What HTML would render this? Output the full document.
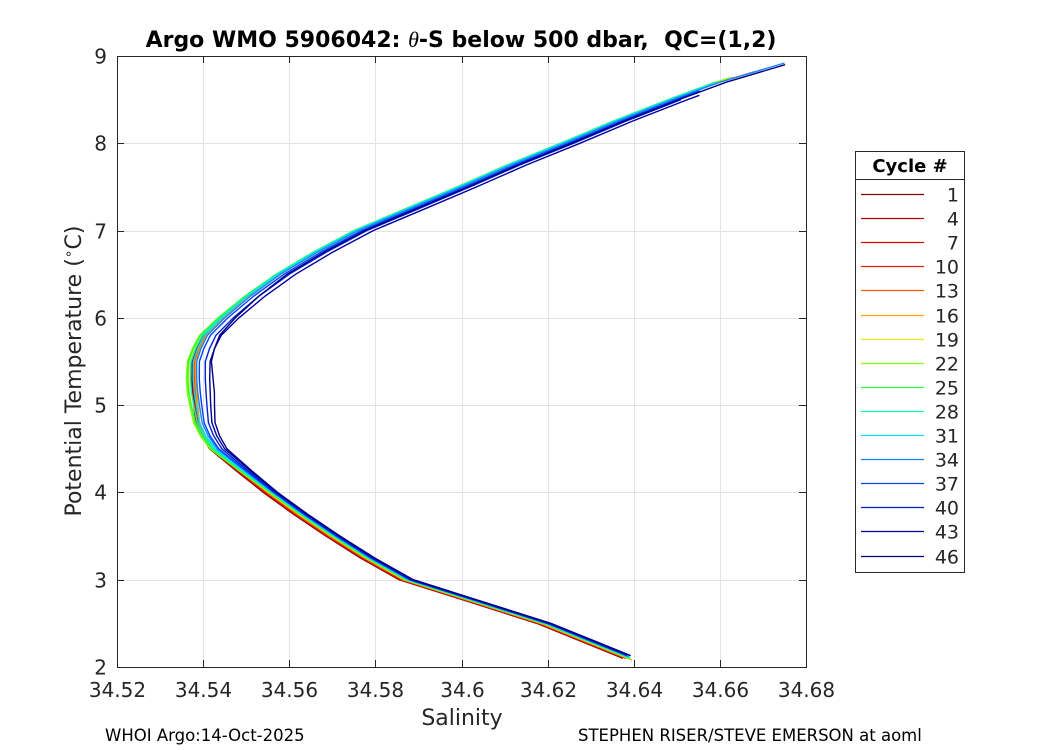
<!DOCTYPE html>
<html><head><meta charset="utf-8"><style>
body{margin:0;background:#fff;}
svg text{font-family:"DejaVu Sans","Liberation Sans",sans-serif;}
</style></head><body>
<svg id="chart" width="1050" height="750" viewBox="0 0 1050 750" xmlns="http://www.w3.org/2000/svg" style="position:absolute;left:0;top:0">
<rect width="1050" height="750" fill="#fff"/>
<g id="grid"></g>
<g id="series"></g>
<g id="axes"></g>
<g id="legend"></g>
<text x="461" y="47" text-anchor="middle" font-size="22" font-weight="bold" fill="#000" xml:space="preserve">Argo WMO 5906042: <tspan font-style="italic" font-weight="normal" font-family="Liberation Serif, serif">θ</tspan>-S below 500 dbar,  QC=(1,2)</text>
<text x="462" y="725" text-anchor="middle" font-size="22" fill="#262626">Salinity</text>
<text transform="translate(81,371) rotate(-90)" text-anchor="middle" font-size="22" fill="#262626">Potential Temperature (<tspan font-size="14" dy="-8">∘</tspan><tspan dy="8">C)</tspan></text>
<text x="105" y="741" font-size="16.5" fill="#000">WHOI Argo:14-Oct-2025</text>
<text x="578" y="741" font-size="16.5" fill="#000">STEPHEN RISER/STEVE EMERSON at aoml</text>
</svg>
<script>
const xTicks=[34.52,34.54,34.56,34.58,34.6,34.62,34.64,34.66,34.68];
const xTickLabels=["34.52","34.54","34.56","34.58","34.6","34.62","34.64","34.66","34.68"];
const yTicks=[2,3,4,5,6,7,8,9];
const baseTemp=[2.08,2.3,2.5,2.75,3.0,3.25,3.5,3.75,4.0,4.25,4.5,4.65,4.8,5.0,5.15,5.3,5.5,5.65,5.8,6.0,6.25,6.5,6.75,7.0,7.25,7.5,7.75,8.0,8.25,8.5,8.7,8.92];
const baseSal=[34.640,34.629,34.619,34.603,34.587,34.578,34.570,34.5625,34.5555,34.549,34.5428,34.5408,34.5395,34.539,34.5387,34.5385,34.5385,34.5395,34.541,34.545,34.551,34.558,34.5665,34.576,34.588,34.600,34.6115,34.624,34.636,34.649,34.660,34.675];
const cycles=[1,4,7,10,13,16,19,22,25,28,31,34,37,40,43,46];
const cycleColors=["#7f0000","#b00000","#d80000","#f02000","#ff5a00","#ffa500","#e0f000","#88ff00","#22ff44","#00ffb0","#00e0ff","#1a80ff","#0040ff","#0020d0","#0000a0","#000080"];
const deepOffset=[-0.0015,-0.0012,-0.0008,-0.0010,-0.0006,-0.0004,0.0000,-0.0002,0.0002,0.0004,0.0006,0.0008,0.0010,0.0012,0.0016,0.0018];
const kneeOffset=[-0.0010,-0.0012,-0.0008,-0.0006,-0.0004,-0.0002,-0.0020,-0.0025,-0.0022,-0.0015,-0.0008,0.0000,0.0006,0.0020,0.0030,0.0040];
const upperOffset=[-0.0006,-0.0004,-0.0008,-0.0006,-0.0004,-0.0002,-0.0008,-0.0010,-0.0010,-0.0008,-0.0006,0.0000,0.0008,0.0020,0.0035,0.0015];
const cycleTmax=[8.7,8.75,8.65,8.7,8.6,8.82,8.7,8.75,8.7,8.65,8.7,8.92,8.6,8.5,8.55,8.9];
const cycleTmin=[2.1,2.12,2.1,2.11,2.1,2.08,2.1,2.09,2.1,2.11,2.11,2.12,2.13,2.14,2.15,2.13];

const X0=117,X1=806,Y0=667,Y1=56;
const sx=v=>X0+(v-34.52)/(34.68-34.52)*(X1-X0);
const sy=v=>Y0-(v-2)/(9-2)*(Y0-Y1);
const NS="http://www.w3.org/2000/svg";
function mk(tag,attrs,parent){const e=document.createElementNS(NS,tag);for(const k in attrs)e.setAttribute(k,attrs[k]);parent.appendChild(e);return e;}
const grid=document.getElementById('grid'),axes=document.getElementById('axes'),series=document.getElementById('series'),legend=document.getElementById('legend');

xTicks.forEach((t,i)=>{
  const x=Math.round(sx(t))+0.5;
  const l=mk('line',{x1:x,x2:x,y1:Y1,y2:Y0,stroke:'#e3e3e3','stroke-width':1},grid);
  
  
  const tk=mk('line',{x1:x,x2:x,y1:Y0,y2:Y0-7,stroke:'#262626'},axes);
  
  
  const tk2=mk('line',{x1:x,x2:x,y1:Y1,y2:Y1+7,stroke:'#262626'},axes);
  
  
  const tx=mk('text',{x:x,y:697,'text-anchor':'middle','font-size':20,fill:'#262626'},axes);
  tx.textContent=xTickLabels[i];
  
  
});
yTicks.forEach(t=>{
  const y=Math.round(sy(t))+0.5;
  const l=mk('line',{x1:X0,x2:X1,y1:y,y2:y,stroke:'#e3e3e3','stroke-width':1},grid);
  
  
  const tk=mk('line',{x1:X0,x2:X0+7,y1:y,y2:y,stroke:'#262626'},axes);
  
  
  const tk2=mk('line',{x1:X1,x2:X1-7,y1:y,y2:y,stroke:'#262626'},axes);
  
  
  const tx=mk('text',{x:107,y:y+7,'text-anchor':'end','font-size':20,fill:'#262626'},axes);
  tx.textContent=String(t);
  
  
});
const frame=mk('rect',{x:X0+0.5,y:Y1+0.5,width:X1-X0,height:Y0-Y1,fill:'none',stroke:'#262626','stroke-width':1},axes);



function offsetAt(T,i){
  if(T<=4.0) return deepOffset[i];
  if(T<=5.2){const f=(T-4.0)/1.2;return deepOffset[i]+f*(kneeOffset[i]-deepOffset[i]);}
  if(T<=6.5){const f=(T-5.2)/1.3;return kneeOffset[i]+f*(upperOffset[i]-kneeOffset[i]);}
  return upperOffset[i];
}
function baseAt(T){
  if(T<=baseTemp[0]) return baseSal[0];
  for(let k=1;k<baseTemp.length;k++){
    if(T<=baseTemp[k]){const f=(T-baseTemp[k-1])/(baseTemp[k]-baseTemp[k-1]);return baseSal[k-1]+f*(baseSal[k]-baseSal[k-1]);}
  }
  return baseSal[baseSal.length-1];
}
cycles.forEach((c,i)=>{
  const temps=[cycleTmin[i]];
  baseTemp.forEach(T=>{if(T>cycleTmin[i]&&T<cycleTmax[i])temps.push(T);});
  temps.push(cycleTmax[i]);
  let d='';
  temps.forEach((T,k)=>{
    const S=baseAt(T)+offsetAt(T,i);
    d+=(k?'L':'M')+sx(S).toFixed(1)+','+sy(T).toFixed(1);
  });
  const p=mk('path',{d:d,fill:'none',stroke:cycleColors[i],'stroke-width':1.4},series);
  
  
});

const lb=mk('rect',{x:855.5,y:151.5,width:109,height:421,fill:'#fff',stroke:'#262626'},legend);


mk('line',{x1:855.5,x2:964.5,y1:179.5,y2:179.5,stroke:'#262626'},legend);
const lt=mk('text',{x:910,y:172,'text-anchor':'middle','font-size':18,'font-weight':'bold',fill:'#000'},legend);
lt.textContent='Cycle #';


cycles.forEach((c,i)=>{
  const y=Math.round(194+i*24.1)+0.5;
  const g=mk('g',{},legend);
  
  
  mk('line',{x1:861,x2:924,y1:y,y2:y,stroke:cycleColors[i],'stroke-width':1.2},g);
  const t=mk('text',{x:959,y:y+7,'text-anchor':'end','font-size':19,fill:'#262626'},g);
  t.textContent=String(c);
});
</script>
</body></html>
